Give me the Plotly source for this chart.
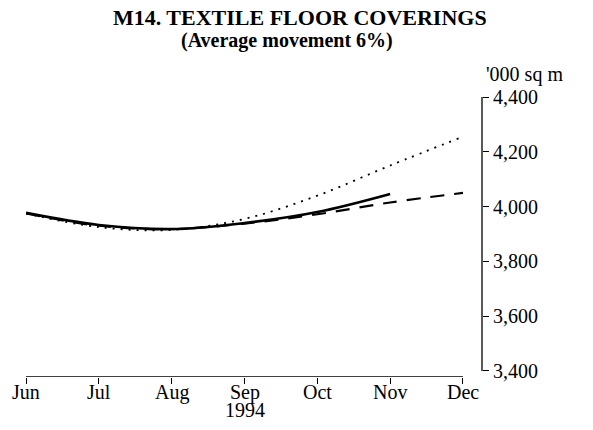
import plotly.graph_objects as go

months = ["Jun", "Jul", "Aug", "Sep", "Oct", "Nov", "Dec"]
year_label = "1994"

# trend series (solid), two projections (dashed, dotted)
trend = [3977, 3933, 3918, 3940, 3980, 4046]
proj_dashed = [3975, 3930, 3918, 3938, 3972, 4015, 4050]
proj_dotted = [3975, 3925, 3915, 3955, 4040, 4150, 4255]

y_ticks = [3400, 3600, 3800, 4000, 4200, 4400]
y_labels = ["3,400", "3,600", "3,800", "4,000", "4,200", "4,400"]

FONT = "Liberation Serif"
x_idx = list(range(len(months)))

fig = go.Figure()
fig.add_trace(go.Scatter(
    x=x_idx, y=proj_dotted, mode="lines", line_shape="spline",
    line=dict(color="black", width=1.8, dash="2px,6px"), showlegend=False,
))
fig.add_trace(go.Scatter(
    x=x_idx, y=proj_dashed, mode="lines", line_shape="spline",
    line=dict(color="black", width=2.2, dash="14px,10px"), showlegend=False,
))
fig.add_trace(go.Scatter(
    x=x_idx[:len(trend)], y=trend, mode="lines", line_shape="spline",
    line=dict(color="black", width=2.6), showlegend=False,
))

# axis lines drawn as shapes so they stop at the end ticks
fig.add_shape(type="line", xref="x", yref="y", x0=0, x1=6, y0=3378, y1=3378,
              line=dict(color="black", width=1.3))
fig.add_shape(type="line", xref="paper", yref="y", x0=1, x1=1, y0=3400, y1=4400,
              line=dict(color="black", width=1.3))

# month labels sit closer to the axis than plotly's own tick labels
annotations = []
for i, m in enumerate(months):
    annotations.append(dict(
        text=m, xref="x", yref="paper", x=i, y=0, yshift=-15,
        xanchor="center", yanchor="middle", showarrow=False,
        font=dict(family=FONT, size=20),
    ))
annotations.append(dict(
    text=year_label, xref="x", yref="paper", x=months.index("Sep"), y=0, yshift=-33,
    xanchor="center", yanchor="middle", showarrow=False,
    font=dict(family=FONT, size=20),
))
annotations += [
    dict(text="<b>M14. TEXTILE FLOOR COVERINGS</b>", xref="paper", yref="paper",
         x=(300 - 26) / 456, y=1.0, yshift=80, xanchor="center", yanchor="middle",
         showarrow=False, font=dict(family=FONT, size=22)),
    dict(text="<b>(Average movement 6%)</b>", xref="paper", yref="paper",
         x=(287 - 26) / 456, y=1.0, yshift=57, xanchor="center", yanchor="middle",
         showarrow=False, font=dict(family=FONT, size=20)),
    dict(text="'000 sq m", xref="paper", yref="paper",
         x=1.0, y=1.0, xshift=2, yshift=23, xanchor="left", yanchor="middle",
         showarrow=False, font=dict(family=FONT, size=20)),
]

# page body adds an 8px margin, so the figure is 8px smaller each way
fig.update_layout(
    template="none",
    width=585, height=422,
    margin=dict(l=18, r=111, t=89, b=53),
    paper_bgcolor="white", plot_bgcolor="white",
    font=dict(family=FONT, color="black", size=20),
    xaxis=dict(
        range=[0, 6.261], tickvals=x_idx, showticklabels=False,
        showgrid=False, zeroline=False, showline=False, automargin=False,
        ticks="outside", ticklen=6, tickcolor="black", tickwidth=1.3,
    ),
    yaxis=dict(
        range=[3378, 4400], side="right", tickvals=y_ticks, ticktext=y_labels,
        showgrid=False, zeroline=False, showline=False, automargin=False,
        ticks="outside", ticklen=6, tickcolor="black", tickwidth=1.3,
        tickfont=dict(family=FONT, size=20),
    ),
    annotations=annotations,
)

fig.write_html("out.html")
